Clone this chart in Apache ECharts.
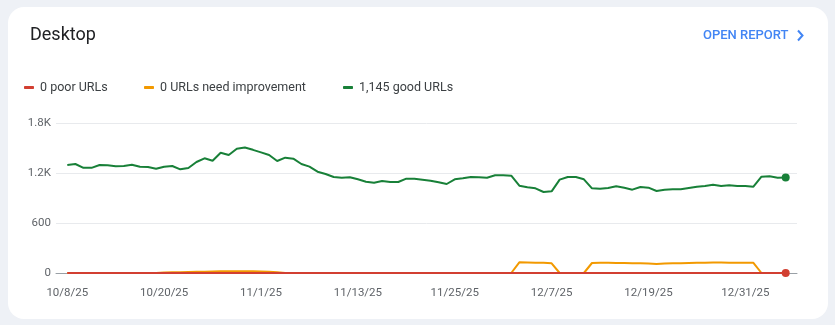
<!DOCTYPE html>
<html>
<head>
<meta charset="utf-8">
<script src="https://cdn.jsdelivr.net/npm/echarts@6/dist/echarts.min.js"></script>
<style>
  html, body { margin: 0; padding: 0; background: #eef1f6; }
  #chart { width: 835px; height: 325px; }
</style>
</head>
<body>
<div id="chart"></div>
<script>
// Daily URL counts for the Desktop Core Web Vitals report, 10/8/25 .. 1/5/26 (one value per day)
const tickDays = [0, 12, 24, 36, 48, 60, 72, 84];
const tickLabels = ['10/8/25', '10/20/25', '11/1/25', '11/13/25', '11/25/25', '12/7/25', '12/19/25', '12/31/25'];
const yTickLabels = { 0: '0', 600: '600', 1200: '1.2K', 1800: '1.8K' };

const goodUrls = [
  1296, 1308, 1262, 1262, 1296, 1292, 1280, 1284, 1300, 1276,
  1272, 1252, 1276, 1284, 1244, 1260, 1332, 1376, 1348, 1444,
  1416, 1492, 1506, 1478, 1448, 1416, 1344, 1384, 1372, 1308,
  1276, 1216, 1188, 1152, 1144, 1148, 1124, 1096, 1084, 1104,
  1092, 1092, 1132, 1132, 1120, 1108, 1088, 1068, 1124, 1136,
  1152, 1148, 1144, 1172, 1172, 1168, 1048, 1028, 1016, 972,
  980, 1120, 1152, 1152, 1124, 1016, 1012, 1020, 1040, 1024,
  1000, 1032, 1024, 984, 1000, 1004, 1004, 1020, 1036, 1044,
  1060, 1044, 1052, 1044, 1044, 1036, 1156, 1160, 1144, 1145
];

const needImprovementUrls = [
  0, 0, 0, 0, 0, 0, 0, 0, 0, 0,
  0, 0, 5, 8, 10, 12, 14, 16, 18, 20,
  22, 22, 22, 20, 18, 15, 8, 0, 0, 0,
  0, 0, 0, 0, 0, 0, 0, 0, 0, 0,
  0, 0, 0, 0, 0, 0, 0, 0, 0, 0,
  0, 0, 0, 0, 0, 0, 128, 126, 124, 122,
  116, 0, 0, 0, 0, 120, 122, 122, 120, 120,
  118, 118, 114, 108, 114, 116, 118, 120, 122, 124,
  126, 126, 124, 124, 122, 122, 0, 0, 0, 0
];

const poorUrls = [
  0, 0, 0, 0, 0, 0, 0, 0, 0, 0,
  0, 0, 0, 0, 0, 0, 0, 0, 0, 0,
  0, 0, 0, 0, 0, 0, 0, 0, 0, 0,
  0, 0, 0, 0, 0, 0, 0, 0, 0, 0,
  0, 0, 0, 0, 0, 0, 0, 0, 0, 0,
  0, 0, 0, 0, 0, 0, 0, 0, 0, 0,
  0, 0, 0, 0, 0, 0, 0, 0, 0, 0,
  0, 0, 0, 0, 0, 0, 0, 0, 0, 0,
  0, 0, 0, 0, 0, 0, 0, 0, 0, 0
];

const COLORS = { poor: '#d23f31', need: '#f29900', good: '#188038' };
const FONT = 'Roboto, "Noto Sans", sans-serif';

const toPoints = arr => arr.map((v, i) => [i, v]);
const lastIndex = goodUrls.length - 1;
const latest = arr => arr[arr.length - 1].toLocaleString('en-US');

// only the most recent day gets a marker dot
const endDot = (value, params) => (params.dataIndex === lastIndex ? 8 : 0);

function legendAt(left, name, color) {
  return {
    left: left, top: 79, padding: 0,
    data: [{ name: name, icon: 'roundRect', itemStyle: { color: color } }],
    itemWidth: 10, itemHeight: 3,
    selectedMode: false,
    formatter: n => n,
    textStyle: { fontFamily: FONT, fontSize: 12.5, color: '#3c4043', padding: [0, 0, 0, 1] }
  };
}

const poorName = latest(poorUrls) + ' poor URLs';
const needName = latest(needImprovementUrls) + ' URLs need improvement';
const goodName = latest(goodUrls) + ' good URLs';

const chart = echarts.init(document.getElementById('chart'), null, { renderer: 'canvas' });
chart.setOption({
  animation: false,
  backgroundColor: '#eef1f6',
  graphic: [
    { type: 'rect', z: -100, silent: true,
      shape: { x: 8, y: 7, width: 820, height: 312, r: 16 },
      style: { fill: '#ffffff' } },
    { type: 'text', left: 703, top: 29, silent: true,
      style: { text: 'OPEN REPORT', fill: '#4285f4', font: '500 13px ' + FONT } },
    { type: 'polyline', silent: true,
      shape: { points: [[798, 30.5], [802.5, 35.5], [798, 40.5]] },
      style: { stroke: '#4285f4', lineWidth: 2, fill: null } }
  ],
  title: {
    text: 'Desktop', left: 30, top: 26, padding: 0,
    textStyle: { fontFamily: FONT, fontSize: 18, fontWeight: 'normal', color: '#202124' }
  },
  legend: [
    legendAt(24, poorName, COLORS.poor),
    legendAt(144, needName, COLORS.need),
    legendAt(343, goodName, COLORS.good)
  ].map(l => Object.assign(l, { top: 81 })),
  grid: { left: 56, right: 38, top: 123, bottom: 52 },
  xAxis: {
    type: 'value', min: -1.4, max: 90.4,
    axisLine: { show: true, lineStyle: { color: '#9aa0a6', width: 1 } },
    axisTick: { show: false },
    splitLine: { show: false },
    axisLabel: {
      customValues: tickDays,
      formatter: v => tickLabels[tickDays.indexOf(v)],
      margin: 14, fontFamily: FONT, fontSize: 11.5, color: '#5f6368'
    }
  },
  yAxis: {
    type: 'value', min: 0, max: 1800, interval: 600,
    axisLine: { show: false },
    axisTick: { show: false },
    splitLine: { lineStyle: { color: '#e8eaed', width: 1 } },
    axisLabel: {
      formatter: v => yTickLabels[v],
      margin: 5, fontFamily: FONT, fontSize: 11.5, color: '#5f6368'
    }
  },
  series: [
    { name: needName, type: 'line', data: toPoints(needImprovementUrls), z: 3,
      symbol: 'circle', symbolSize: 0, showSymbol: false,
      lineStyle: { color: COLORS.need, width: 2 }, itemStyle: { color: COLORS.need } },
    { name: poorName, type: 'line', data: toPoints(poorUrls), z: 4,
      symbol: 'circle', symbolSize: endDot, showAllSymbol: true,
      lineStyle: { color: COLORS.poor, width: 2 }, itemStyle: { color: COLORS.poor } },
    { name: goodName, type: 'line', data: toPoints(goodUrls), z: 4,
      symbol: 'circle', symbolSize: endDot, showAllSymbol: true,
      lineStyle: { color: COLORS.good, width: 2 }, itemStyle: { color: COLORS.good } }
  ]
});
</script>
</body>
</html>
